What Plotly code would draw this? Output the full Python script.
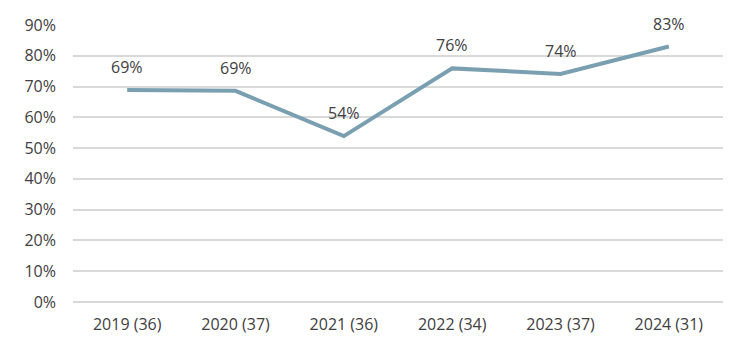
import plotly.graph_objects as go

categories = ["2019 (36)", "2020 (37)", "2021 (36)", "2022 (34)", "2023 (37)", "2024 (31)"]
values = [68.9, 68.6, 53.9, 75.9, 74.1, 83.0]
labels = ["69%", "69%", "54%", "76%", "74%", "83%"]
y_ticks = [0, 10, 20, 30, 40, 50, 60, 70, 80, 90]
y_tick_labels = [f"{v}%" for v in y_ticks]

font_family = "Open Sans, Noto Sans, sans-serif"
text_color = "#404040"
fs = 16

fig = go.Figure()
fig.add_trace(go.Scatter(
    x=categories, y=values, mode="lines",
    line=dict(color="#7a9fb0", width=4),
    hoverinfo="skip", showlegend=False,
))

for c, v, t in zip(categories, values, labels):
    fig.add_annotation(x=c, y=v, text=t, showarrow=False, yanchor="bottom",
                       yshift=10, font=dict(family=font_family, size=fs, color=text_color))

fig.update_layout(
    width=752, height=354,
    margin=dict(l=73, r=29, t=25, b=52),
    paper_bgcolor="white", plot_bgcolor="white",
    font=dict(family=font_family, size=fs, color=text_color),
    showlegend=False,
)
fig.update_xaxes(type="category", range=[-0.5, 5.5], showgrid=False, showline=False,
                 ticks="", ticklabelstandoff=11,
                 tickfont=dict(size=fs, color=text_color))
fig.update_yaxes(range=[0, 90], tickvals=y_ticks, ticktext=y_tick_labels,
                 showgrid=True, gridcolor="#d9d9d9", gridwidth=2,
                 zeroline=True, zerolinecolor="#d9d9d9", zerolinewidth=2,
                 showline=False, ticks="", ticklabelstandoff=16,
                 tickfont=dict(size=fs, color=text_color))

fig.write_html("out.html")
